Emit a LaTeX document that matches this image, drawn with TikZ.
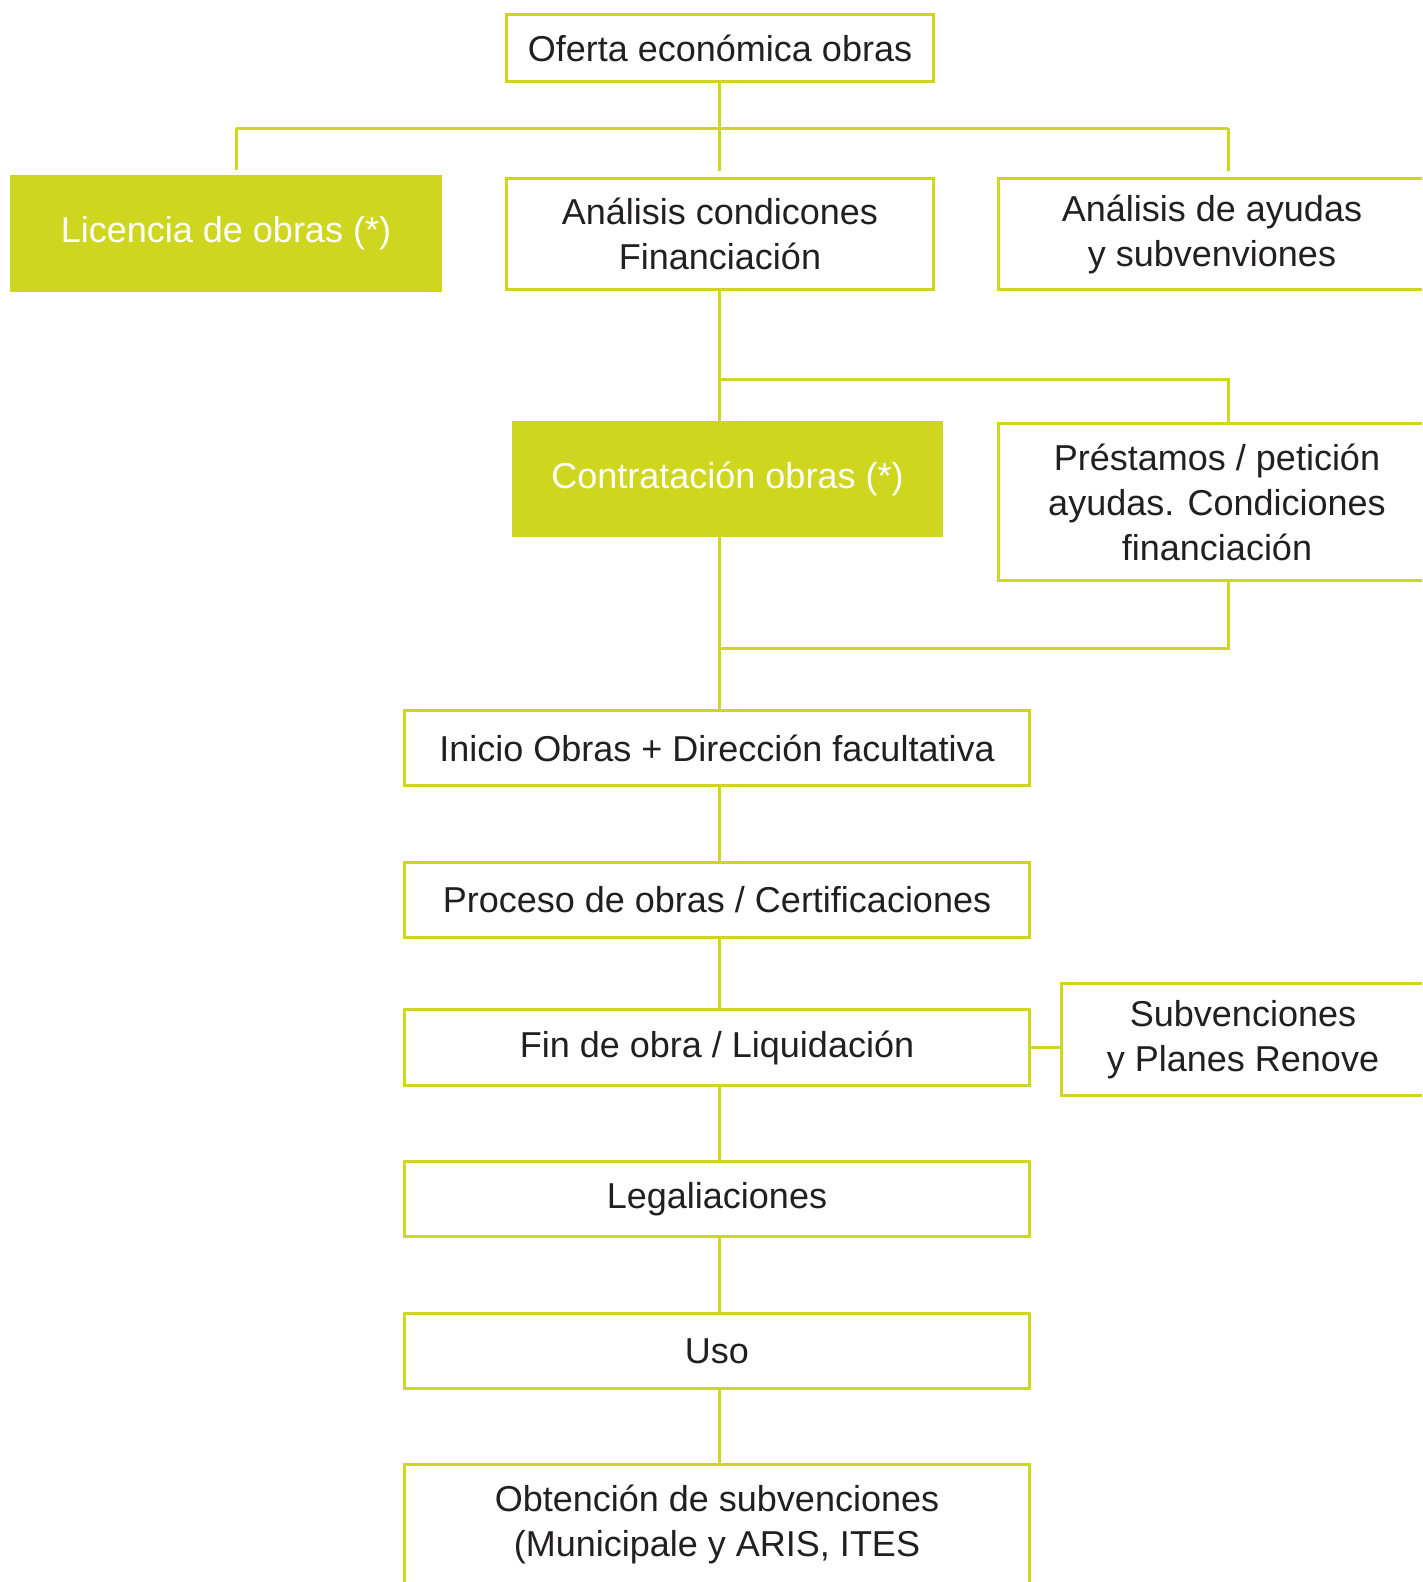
\documentclass[tikz,border=0pt]{standalone}
\usepackage{fontspec}
\setmainfont{Liberation Sans}
\definecolor{obragreen}{RGB}{206,214,32}
\definecolor{ink}{RGB}{35,31,32}

\tikzstyle{block} = [rectangle, draw=obragreen, line width=3pt, fill=white, text=ink, align=center, inner sep=0pt, font=\fontsize{36}{45}\selectfont]
\tikzstyle{keyblock} = [block, fill=obragreen, text=white]
\tikzstyle{link} = [draw=obragreen, line width=3pt]

\begin{document}
\begin{tikzpicture}[x=1pt, y=-1pt]
        \useasboundingbox (0,0) rectangle (1422,1582);
        \clip (0,0) rectangle (1422,1582);
        % boxes
        \node (n1) at (720,48) [block, minimum width=427, minimum height=67] {Oferta económica obras};
        \node (n2) at (226,233.5) [keyblock, minimum width=429, minimum height=114] {Licencia de obras (*)};
        \node (n3) at (720,234) [block, minimum width=427, minimum height=111] {Análisis condicones\\Financiación};
        \node (n4) at (1212,234) [block, minimum width=427, minimum height=111] {Análisis de ayudas\\y subvenviones};
        \node (n5) at (727.5,479) [keyblock, minimum width=428, minimum height=113] {Contratación obras (*)};
        \node (n6) at (1217,502) [block, minimum width=437, minimum height=157] {Préstamos / petición\\ayudas. Condiciones\\financiación};
        \node (n7) at (717,748) [block, minimum width=625, minimum height=75] {Inicio Obras + Dirección facultativa};
        \node (n8) at (717,900) [block, minimum width=625, minimum height=75] {Proceso de obras / Certificaciones};
        \node (n9) at (717,1047.5) [block, minimum width=625, minimum height=76] {Fin de obra / Liquidación};
        \node (n10) at (1243,1039.5) [block, minimum width=363, minimum height=112] {Subvenciones\\y Planes Renove};
        \node (n11) at (717,1199) [block, minimum width=625, minimum height=75] {Legaliaciones};
        \node (n12) at (717,1351) [block, minimum width=625, minimum height=75] {Uso};
        \node (n13) at (717,1524.5) [block, minimum width=625, minimum height=120] {Obtención de subvenciones\\(Municipale y ARIS, ITES};
        % connectors
        \coordinate (axis) at (719,0);
        \coordinate (busl) at (236,128);
        \coordinate (busr) at (1228,128);
        \coordinate (loanin) at (1228,379);
        \coordinate (loanout) at (1228,648);
        \draw[link] (n1.south -| axis) -- (busl -| axis);
        \draw[link] (busl) -- (busr);
        \draw[link, shorten >=5pt] (busl) -- (busl |- n2.north);
        \draw[link, shorten >=6pt] (busl -| axis) -- (n3.north -| axis);
        \draw[link, shorten >=6pt] (busr) -- (busr |- n4.north);
        \draw[link] (n3.south -| axis) -- (n5.north -| axis);
        \draw[link] (loanin -| axis) -- (loanin) -- (loanin |- n6.north);
        \draw[link] (n6.south -| loanout) -- (loanout) -- (loanout -| axis);
        \draw[link] (n5.south -| axis) -- (n7.north -| axis);
        \draw[link] (n7.south -| axis) -- (n8.north -| axis);
        \draw[link] (n8.south -| axis) -- (n9.north -| axis);
        \draw[link] (n9.east) -- (n10.west |- n9.east);
        \draw[link] (n9.south -| axis) -- (n11.north -| axis);
        \draw[link] (n11.south -| axis) -- (n12.north -| axis);
        \draw[link] (n12.south -| axis) -- (n13.north -| axis);
    \end{tikzpicture}
\end{document}
